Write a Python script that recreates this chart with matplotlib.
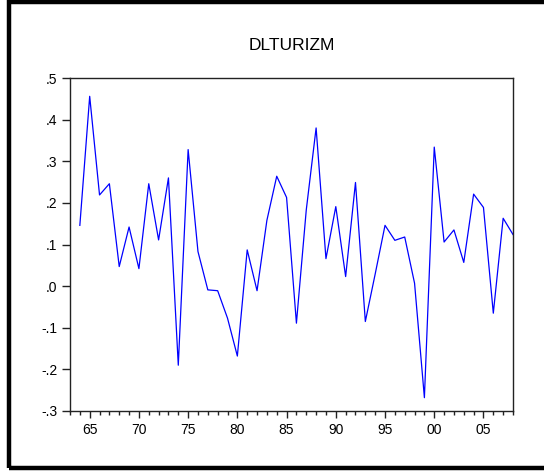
import matplotlib
matplotlib.use('Agg')
import matplotlib.pyplot as plt
from matplotlib.patches import Rectangle
from matplotlib.ticker import FixedLocator, MultipleLocator

plt.rcParams['font.family'] = ['Liberation Sans', 'DejaVu Sans']

# annual data 1964-2008
years = list(range(1964, 2009))
dlturizm = [0.146, 0.456, 0.219, 0.246, 0.047, 0.142, 0.042, 0.246, 0.111, 0.260,
            -0.190, 0.328, 0.083, -0.009, -0.011, -0.077, -0.168, 0.087, -0.011, 0.158,
            0.264, 0.213, -0.089, 0.183, 0.380, 0.066, 0.191, 0.023, 0.249, -0.085,
            0.029, 0.146, 0.110, 0.118, 0.007, -0.268, 0.334, 0.106, 0.135, 0.057,
            0.221, 0.189, -0.065, 0.163, 0.124]
ytick_vals = [-0.3, -0.2, -0.1, 0.0, 0.1, 0.2, 0.3, 0.4, 0.5]
ytick_labels = ['-.3', '-.2', '-.1', '.0', '.1', '.2', '.3', '.4', '.5']
xtick_vals = [1965, 1970, 1975, 1980, 1985, 1990, 1995, 2000, 2005]
xtick_labels = ['65', '70', '75', '80', '85', '90', '95', '00', '05']

fig = plt.figure(figsize=(5.44, 4.72), dpi=100)

# outer black frame (right side falls off the picture)
fig.patches.append(Rectangle((9 / 544, 4 / 472), 600 / 544, 466 / 472,
                             transform=fig.transFigure, fill=False,
                             edgecolor='black', linewidth=3.2))

ax = fig.add_axes([70 / 544, 1 - 411 / 472, 443 / 544, 333 / 472])
ax.plot(years, dlturizm, color='#0000ff', linewidth=0.9)

ax.set_xlim(1963, 2008)
ax.set_ylim(-0.3, 0.5)
ax.yaxis.set_major_locator(FixedLocator(ytick_vals))
ax.set_yticklabels(ytick_labels)
ax.xaxis.set_major_locator(FixedLocator(xtick_vals))
ax.xaxis.set_minor_locator(MultipleLocator(1))
ax.set_xticklabels(xtick_labels)

for s in ax.spines.values():
    s.set_color('#222222')
    s.set_linewidth(1.0)
ax.tick_params(axis='y', which='major', direction='out', length=6, width=1,
               color='#222222', labelsize=10, pad=3)
ax.tick_params(axis='x', which='major', direction='out', length=5, width=1,
               color='#222222', labelsize=10, pad=4)
ax.tick_params(axis='x', which='minor', direction='out', length=3, width=1,
               color='#222222')
ax.tick_params(axis='y', which='minor', left=False)

ax.set_title('DLTURIZM', fontsize=12.5, pad=20)

fig.savefig('out.png', dpi=100)
